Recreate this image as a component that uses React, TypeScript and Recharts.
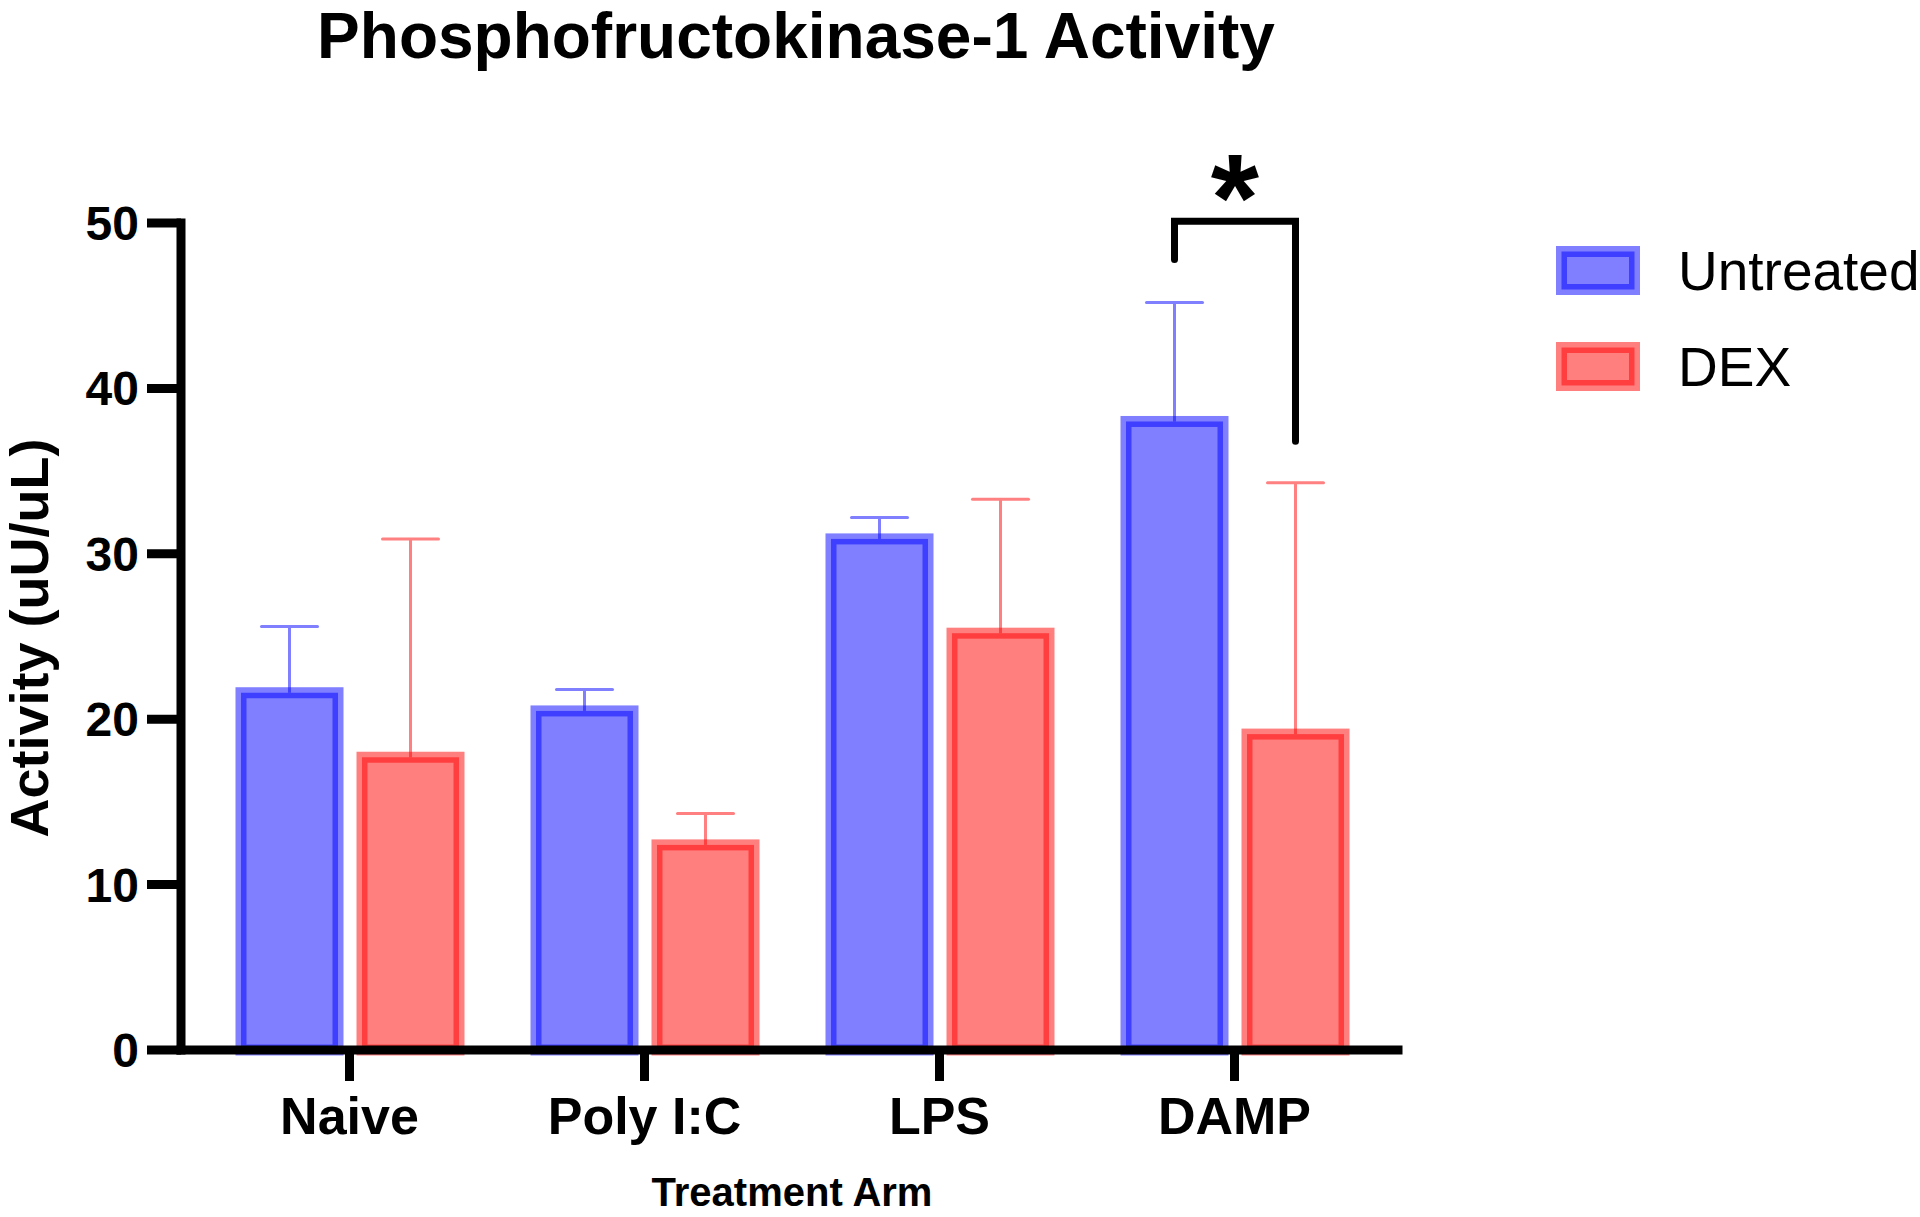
import React from 'react';
import { BarChart, Bar, XAxis, YAxis } from 'recharts';

// values
const categories = ['Naive', 'Poly I:C', 'LPS', 'DAMP'];
const untreated = [21.6, 20.5, 30.9, 38.0];
const untreatedErr = [4.0, 1.3, 1.3, 7.2];
const dex = [17.7, 12.4, 25.2, 19.1];
const dexErr = [13.2, 1.9, 8.1, 15.2];
const yTicks = [0, 10, 20, 30, 40, 50];
const seriesNames = ['Untreated', 'DEX'];

// significance bracket between Untreated and DEX at DAMP
const sigIndex = 3;
const sigTop = 50.1;
const sigLeftEnd = 47.8;
const sigRightEnd = 36.8;
const sigLabel = '*';

const FONT = '"Liberation Sans", Arial, Helvetica, sans-serif';
const BLUE = 'rgba(0,0,255,0.5)';
const RED = 'rgba(255,0,0,0.5)';
const BLUE_ERR = '#8080ff';
const RED_ERR = '#ff8080';
const BAR_SIZE = 97;
const BAR_GAP = 24;

const data = categories.map((name, i) => ({
  name,
  untreated: untreated[i],
  dex: dex[i],
}));

const makeShape = (key: 'untreated' | 'dex', errors: number[], color: string, errColor: string, withBracket: boolean) =>
  (props: any) => {
    const { x, y, width, height, index, payload } = props;
    const value = payload[key];
    const k = height / value; // px per unit, from the bar itself
    const cx = x + width / 2;
    const errTop = y - errors[index] * k;
    const base = y + height;
    const py = (v: number) => base - v * k;

    let bracket = null;
    if (withBracket && index === sigIndex) {
      const leftX = cx - width - BAR_GAP;
      const topY = py(sigTop);
      bracket = (
        <g>
          <path
            d={`M${leftX},${py(sigLeftEnd)} L${leftX},${topY} L${cx},${topY} L${cx},${py(sigRightEnd)}`}
            fill="none"
            stroke="#000"
            strokeWidth={7}
            strokeLinecap="round"
            strokeLinejoin="miter"
          />
          <text
            x={(leftX + cx) / 2}
            y={topY + 20}
            textAnchor="middle"
            fontFamily={FONT}
            fontWeight="bold"
            fontSize={124}
            fill="#000"
          >
            {sigLabel}
          </text>
        </g>
      );
    }

    return (
      <g>
        <line x1={cx} y1={y} x2={cx} y2={errTop} stroke={errColor} strokeWidth={3} />
        <line x1={cx - 28} y1={errTop} x2={cx + 28} y2={errTop} stroke={errColor} strokeWidth={3} strokeLinecap="round" />
        <rect x={x} y={y} width={width} height={height} fill={color} stroke={color} strokeWidth={11} />
        {bracket}
      </g>
    );
  };

const untreatedShape = makeShape('untreated', untreatedErr, BLUE, BLUE_ERR, false);
const dexShape = makeShape('dex', dexErr, RED, RED_ERR, true);

export default function App() {
  return (
    <div style={{ position: 'absolute', left: 0, top: 0, width: 1920, height: 1217, background: '#fff', fontFamily: FONT }}>
      <BarChart
        width={1920}
        height={1217}
        data={data}
        margin={{ top: 223, right: 522, bottom: 47, left: 31 }}
        barSize={BAR_SIZE}
        barGap={BAR_GAP}
      >
        <Bar dataKey="untreated" name={seriesNames[0]} fill={BLUE} shape={untreatedShape} isAnimationActive={false} />
        <Bar dataKey="dex" name={seriesNames[1]} fill={RED} shape={dexShape} isAnimationActive={false} />
        <XAxis
          dataKey="name"
          height={120}
          padding={{ left: 21, right: 16 }}
          axisLine={{ stroke: '#000', strokeWidth: 9, strokeLinecap: 'square' }}
          tickLine={{ stroke: '#000', strokeWidth: 9 }}
          tickSize={31}
          tickMargin={16}
          tick={{ fill: '#000', fontSize: 52, fontWeight: 'bold', fontFamily: FONT }}
          interval={0}
        />
        <YAxis
          width={150}
          domain={[0, 50]}
          ticks={yTicks}
          interval={0}
          axisLine={{ stroke: '#000', strokeWidth: 9, strokeLinecap: 'square' }}
          tickLine={{ stroke: '#000', strokeWidth: 9 }}
          tickSize={34}
          tickMargin={8}
          tick={{ fill: '#000', fontSize: 48, fontWeight: 'bold', fontFamily: FONT }}
        />
      </BarChart>

      <svg width={1920} height={1217} style={{ position: 'absolute', left: 0, top: 0, pointerEvents: 'none' }}>
        <text x={796} y={58} textAnchor="middle" fontFamily={FONT} fontWeight="bold" fontSize={64} fill="#000">
          Phosphofructokinase-1 Activity
        </text>
        <text
          x={48}
          y={638}
          transform="rotate(-90 48 638)"
          textAnchor="middle"
          fontFamily={FONT}
          fontWeight="bold"
          fontSize={54}
          fill="#000"
        >
          Activity (uU/uL)
        </text>
        <text x={792} y={1206} textAnchor="middle" fontFamily={FONT} fontWeight="bold" fontSize={40} fill="#000">
          Treatment Arm
        </text>

        {/* legend */}
        <rect x={1561.5} y={251.5} width={73} height={38} fill={BLUE} stroke={BLUE} strokeWidth={11} />
        <text x={1678} y={290} fontFamily={FONT} fontSize={55} fill="#000">{seriesNames[0]}</text>
        <rect x={1561.5} y={347.5} width={73} height={38} fill={RED} stroke={RED} strokeWidth={11} />
        <text x={1678} y={386} fontFamily={FONT} fontSize={55} fill="#000">{seriesNames[1]}</text>
      </svg>
    </div>
  );
}
